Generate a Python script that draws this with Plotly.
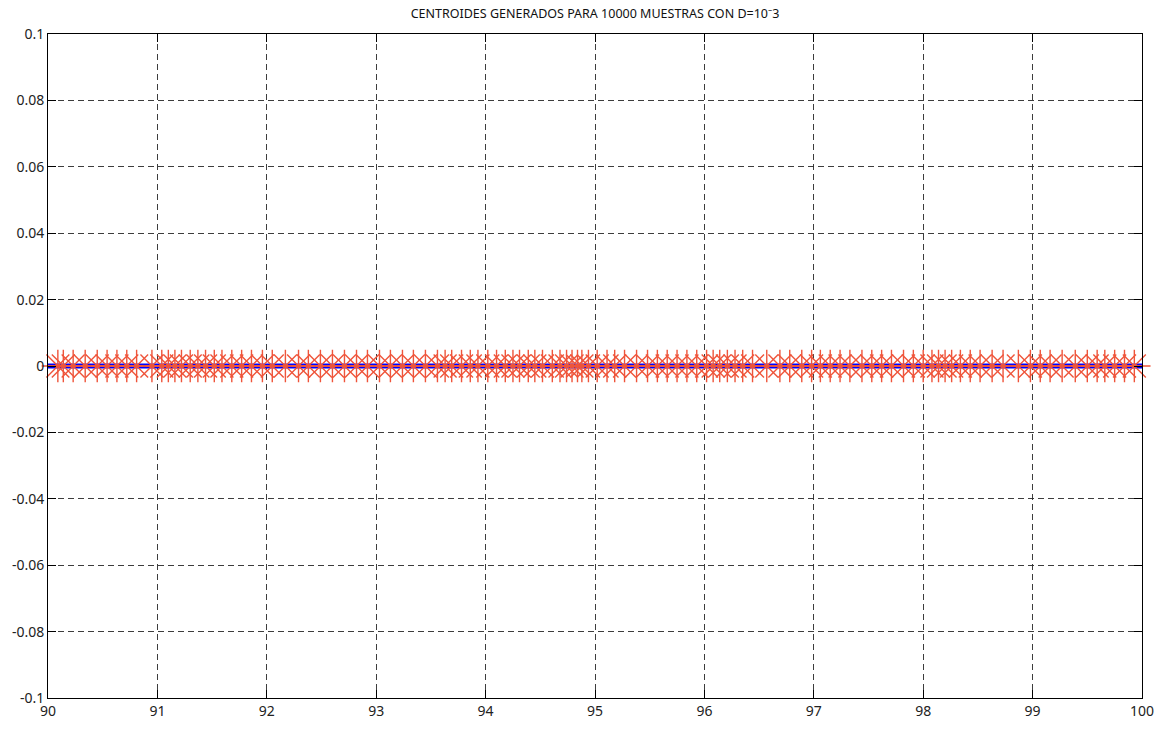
import plotly.graph_objects as go

# Centroid positions (x); all centroids lie on y = 0
centroid_x = [90.09, 90.14, 90.23, 90.34, 90.45, 90.54, 90.63, 90.72, 90.81, 90.95,
              91.04, 91.10, 91.16, 91.22, 91.30, 91.37, 91.44, 91.52, 91.59, 91.68,
              91.77, 91.86, 91.96, 92.05, 92.17, 92.29, 92.38, 92.49, 92.60, 92.71,
              92.82, 92.92, 93.03, 93.13, 93.24, 93.34, 93.45, 93.56, 93.63, 93.69,
              93.78, 93.86, 93.93, 94.02, 94.10, 94.18, 94.25, 94.31, 94.39, 94.45,
              94.52, 94.61, 94.68, 94.74, 94.79, 94.84, 94.88, 94.94, 95.02, 95.11,
              95.18, 95.27, 95.38, 95.48, 95.57, 95.66, 95.75, 95.84, 95.93, 96.02,
              96.08, 96.14, 96.21, 96.28, 96.35, 96.44, 96.57, 96.69, 96.78, 96.89,
              96.98, 97.06, 97.15, 97.24, 97.33, 97.44, 97.53, 97.62, 97.71, 97.82,
              97.91, 98.00, 98.08, 98.14, 98.20, 98.26, 98.34, 98.43, 98.52, 98.63,
              98.73, 98.87, 98.98, 99.07, 99.16, 99.27, 99.39, 99.50, 99.59, 99.66,
              99.75, 99.84, 99.93]
centroid_y = [0, 0, 0, 0, 0, 0, 0, 0, 0, 0,
              0, 0, 0, 0, 0, 0, 0, 0, 0, 0,
              0, 0, 0, 0, 0, 0, 0, 0, 0, 0,
              0, 0, 0, 0, 0, 0, 0, 0, 0, 0,
              0, 0, 0, 0, 0, 0, 0, 0, 0, 0,
              0, 0, 0, 0, 0, 0, 0, 0, 0, 0,
              0, 0, 0, 0, 0, 0, 0, 0, 0, 0,
              0, 0, 0, 0, 0, 0, 0, 0, 0, 0,
              0, 0, 0, 0, 0, 0, 0, 0, 0, 0,
              0, 0, 0, 0, 0, 0, 0, 0, 0, 0,
              0, 0, 0, 0, 0, 0, 0, 0, 0, 0,
              0, 0, 0]

# Blue signal line
line_x = [90, 100]
line_y = [0, 0]

x_ticks = [90, 91, 92, 93, 94, 95, 96, 97, 98, 99, 100]
x_labels = ["90", "91", "92", "93", "94", "95", "96", "97", "98", "99", "100"]
y_ticks = [0.1, 0.08, 0.06, 0.04, 0.02, 0, -0.02, -0.04, -0.06, -0.08, -0.1]
y_labels = ["0.1", "0.08", "0.06", "0.04", "0.02", "0", "-0.02", "-0.04", "-0.06", "-0.08", "-0.1"]

title_text = "CENTROIDES GENERADOS PARA 10000 MUESTRAS CON D=10⁻3"

fig = go.Figure()
fig.add_trace(go.Scatter(x=line_x, y=line_y, mode="lines",
                         line=dict(color="#0000ff", width=5), showlegend=False,
                         hoverinfo="skip"))
fig.add_trace(go.Scatter(x=centroid_x, y=centroid_y, mode="markers",
                         marker=dict(symbol="asterisk-open", size=27,
                                     line=dict(color="rgb(228,36,8)", width=1.4)),
                         cliponaxis=False, showlegend=False))

axis_common = dict(showline=True, linecolor="black", linewidth=1, mirror="ticks",
                   ticks="inside", ticklen=8, tickcolor="black",
                   showgrid=True, gridcolor="rgba(40,40,40,0.9)", gridwidth=1,
                   griddash="6px,4px", zeroline=False,
                   tickfont=dict(family="Noto Sans, Open Sans, sans-serif", size=14, color="#222"))

fig.update_xaxes(range=[90, 100], tickvals=x_ticks, ticktext=x_labels,
                 ticklabelstandoff=0, **axis_common)
fig.update_yaxes(range=[-0.1, 0.1], tickvals=y_ticks, ticktext=y_labels, **axis_common)

fig.update_layout(
    width=1166, height=731,
    margin=dict(l=48, r=24, t=34, b=33),
    paper_bgcolor="white", plot_bgcolor="white",
    title=dict(text=title_text, x=(48 + 1142) / 2 / 1166, xanchor="center",
               y=1 - 14 / 731, yanchor="middle",
               font=dict(family="Noto Sans, Open Sans, sans-serif", size=12.5, color="#111")),
)

fig.write_html("out.html")
